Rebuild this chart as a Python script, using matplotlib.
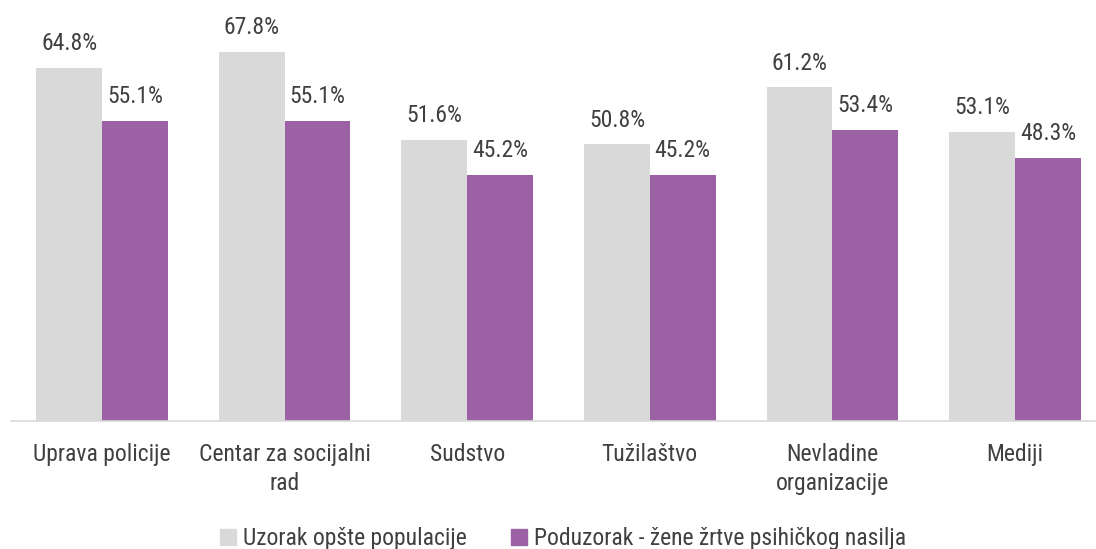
import matplotlib.pyplot as plt
import numpy as np
from matplotlib.patches import Patch
from matplotlib import font_manager

categories = ['Uprava policije', 'Centar za socijalni\nrad', 'Sudstvo',
              'Tužilaštvo', 'Nevladine\norganizacije', 'Mediji']
opsta = [64.8, 67.8, 51.6, 50.8, 61.2, 53.1]
zrtve = [55.1, 55.1, 45.2, 45.2, 53.4, 48.3]
series_names = ['Uzorak opšte populacije', 'Poduzorak - žene žrtve psihičkog nasilja']

gray = '#d9d9d9'
purple = '#9c61a5'
text_col = '#404040'

# look for a condensed sans face among the installed fonts
prefer = ['Roboto Condensed', 'Noto Sans', 'DejaVu Sans', 'Open Sans', 'Liberation Sans Narrow']
cands = [f for f in font_manager.fontManager.ttflist
         if f.stretch in ('condensed', 'semi-condensed', 'extra-condensed')
         and f.style == 'normal' and f.weight in (400, 'normal', 'regular', 'book')]
cands.sort(key=lambda f: (prefer.index(f.name) if f.name in prefer else 99,
                          ['condensed', 'semi-condensed', 'extra-condensed'].index(f.stretch)))
if cands:
    plt.rcParams['font.family'] = [cands[0].name, 'DejaVu Sans']
    plt.rcParams['font.stretch'] = cands[0].stretch
    fs = 17
else:
    plt.rcParams['font.family'] = ['DejaVu Sans']
    fs = 14

fig = plt.figure(figsize=(10.96, 5.49), dpi=100)
ax = fig.add_axes([10.7 / 1096, 1 - 421 / 549, 1 - 10.7 / 1096, 421 / 549])

x = np.arange(len(categories))
w = 0.36
b1 = ax.bar(x - w / 2, opsta, w, color=gray)
b2 = ax.bar(x + w / 2, zrtve, w, color=purple)

for bars in (b1, b2):
    for bar in bars:
        ax.annotate(f'{bar.get_height():.1f}%',
                    (bar.get_x() + bar.get_width() / 2, bar.get_height()),
                    xytext=(0, 9), textcoords='offset points',
                    ha='center', va='bottom', fontsize=fs, color=text_col)

ax.set_xlim(-0.5, 5 + 81 / 182.6)
ax.set_ylim(0, 77.25)
ax.set_yticks([])
ax.set_xticks(x)
ax.set_xticklabels(categories, fontsize=fs, color=text_col, linespacing=1.3)
ax.tick_params(axis='x', length=0, pad=16)
for s in ['top', 'right', 'left']:
    ax.spines[s].set_visible(False)
ax.spines['bottom'].set_color('#d9d9d9')
ax.spines['bottom'].set_linewidth(1.2)

handles = [Patch(color=gray), Patch(color=purple)]
fig.legend(handles, series_names, loc='center', bbox_to_anchor=(563 / 1096, 1 - 539 / 549),
           ncol=2, frameon=False, fontsize=fs, handlelength=0.65, handleheight=0.65,
           handletextpad=0.3, columnspacing=1.9, labelcolor=text_col)

fig.savefig('out.png', dpi=100)
